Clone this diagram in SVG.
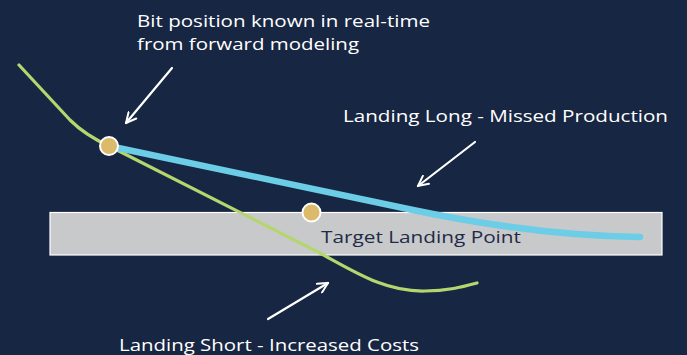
<svg xmlns="http://www.w3.org/2000/svg" width="687" height="355" viewBox="0 0 687 355">
<style>
.lbl{font-family:"Open Sans","Noto Sans","Liberation Sans",sans-serif;font-size:17px;fill:#ffffff}
.tgt{font-family:"Open Sans","Noto Sans","Liberation Sans",sans-serif;font-size:17px;fill:#1f2b47}
.arr{fill:none;stroke:#ffffff;stroke-width:2.2;stroke-linecap:round}
.dot{fill:#dcba6b;stroke:#ffffff;stroke-width:2}
</style>
<defs>
<marker id="ah" viewBox="0 0 12 12" refX="11" refY="6" markerWidth="12" markerHeight="12" markerUnits="userSpaceOnUse" orient="auto">
<path d="M1,1 L11,6 L1,11" fill="none" stroke="#ffffff" stroke-width="2" stroke-linecap="round"/>
</marker>
</defs>
<rect width="687" height="355" fill="#172642"/>
<g id="target">
<rect x="50" y="212.5" width="612" height="42.5" fill="#c8c9cb" stroke="#ffffff" stroke-width="1.2"/>
<text class="tgt" x="321" y="243" textLength="200" lengthAdjust="spacingAndGlyphs">Target Landing Point</text>
</g>
<g id="connectors">
<path d="M19,65 L70,120 Q85,135 109,146 L318,252 C355,272 385,292 425,291 C447,291 462,287 477,283" fill="none" stroke="#b5d66e" stroke-width="3.2" stroke-linecap="round"/>
<path d="M109,146 L413,210 C480,224 560,236 640,237" fill="none" stroke="#6ccde6" stroke-width="6.5" stroke-linecap="round"/>
<path class="arr" d="M172,68 L126,123" marker-end="url(#ah)"/>
<path class="arr" d="M475,142 L418,186" marker-end="url(#ah)"/>
<path class="arr" d="M268,319 L328,283" marker-end="url(#ah)"/>
</g>
<g id="bit">
<circle class="dot" cx="109" cy="146" r="9"/>
</g>
<g id="target-point">
<circle class="dot" cx="311.5" cy="212.5" r="9"/>
</g>
<g id="label-bit">
<text class="lbl" x="137" y="27" textLength="293" lengthAdjust="spacingAndGlyphs">Bit position known in real-time</text>
<text class="lbl" x="137" y="50" textLength="222" lengthAdjust="spacingAndGlyphs">from forward modeling</text>
</g>
<g id="label-long">
<text class="lbl" x="343" y="122" textLength="325" lengthAdjust="spacingAndGlyphs">Landing Long - Missed Production</text>
</g>
<g id="label-short">
<text class="lbl" x="119" y="351" textLength="300" lengthAdjust="spacingAndGlyphs">Landing Short - Increased Costs</text>
</g>
</svg>
